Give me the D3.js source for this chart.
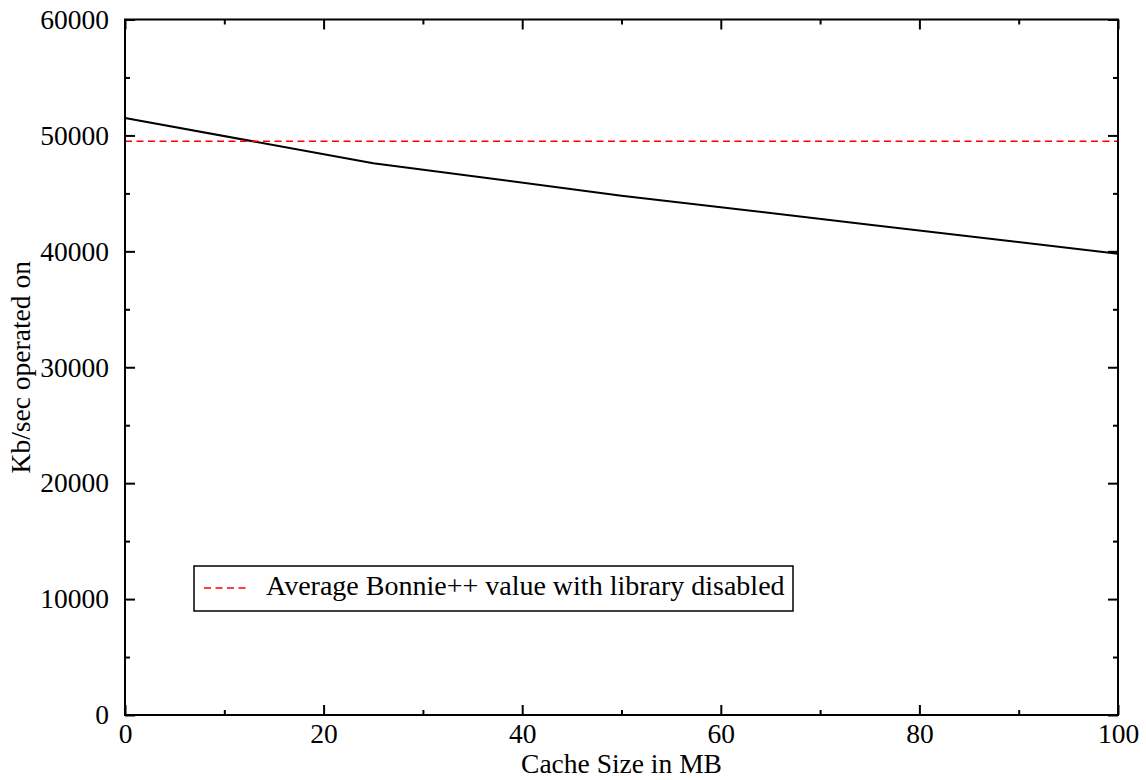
<!DOCTYPE html>
<html><head><meta charset="utf-8">
<script src="https://cdn.jsdelivr.net/npm/d3@7"></script>
<style>body{margin:0;background:#fff}</style>
</head><body>
<svg id="c" width="1146" height="780"></svg>
<script>
const cacheSizes = [0, 25, 50, 75, 100];
const throughput = [51500, 47600, 44800, 42300, 39800];
const baselineValue = 49500;
const xTicks = [0, 20, 40, 60, 80, 100];
const yTicks = [0, 10000, 20000, 30000, 40000, 50000, 60000];
const legendLabel = "Average Bonnie++ value with library disabled";
const xTitle = "Cache Size in MB";
const yTitle = "Kb/sec operated on";

const L = 125, R = 1118, T = 19.5, B = 715;
const svg = d3.select("#c");
const font = "'Liberation Serif', 'DejaVu Serif', serif";
const FS = 27.5;
const x = d3.scaleLinear().domain([0, 100]).range([L, R]);
const y = d3.scaleLinear().domain([0, 60000]).range([B, T]);

const g = svg.append("g");
// series
const line = d3.line().x((d, i) => x(cacheSizes[i])).y(d => y(d));
g.append("path").datum(throughput).attr("d", line)
  .attr("fill", "none").attr("stroke", "#000").attr("stroke-width", 2);
g.append("line").attr("x1", x(0)).attr("x2", x(100))
  .attr("y1", y(baselineValue)).attr("y2", y(baselineValue))
  .attr("stroke", "#ff0000").attr("stroke-width", 1.5).attr("stroke-dasharray", "7,4.5");

// axes with inward ticks
function tickAxis(axisFn, scale, major, minor, transform, labels) {
  const a = g.append("g").attr("transform", transform);
  a.call(axisFn(scale).tickValues(minor).tickSize(-5).tickFormat(""));
  a.select(".domain").remove();
  const b = g.append("g").attr("transform", transform);
  b.call(axisFn(scale).tickValues(major).tickSize(-10).tickFormat(labels ? d3.format("d") : ""));
  b.select(".domain").remove();
  b.selectAll("line").attr("stroke", "#000").attr("stroke-width", 2);
  a.selectAll("line").attr("stroke", "#000").attr("stroke-width", 2);
  b.selectAll("text").attr("font-family", font).attr("font-size", FS).attr("fill", "#000");
  return b;
}
const xMinor = d3.range(10, 100, 20);
const yMinor = d3.range(5000, 60000, 10000);
const bx = tickAxis(d3.axisBottom, x, xTicks, xMinor, `translate(0,${B})`, true);
bx.selectAll("text").attr("dy", 0).attr("y", 28);
tickAxis(d3.axisTop, x, xTicks, xMinor, `translate(0,${T})`, false);
const by = tickAxis(d3.axisLeft, y, yTicks, yMinor, `translate(${L},0)`, true);
by.selectAll("text").attr("x", -16).attr("dy", "0.32em");
tickAxis(d3.axisRight, y, yTicks, yMinor, `translate(${R},0)`, false);

// frame
g.append("rect").attr("x", L).attr("y", T).attr("width", R - L).attr("height", B - T)
  .attr("fill", "none").attr("stroke", "#000").attr("stroke-width", 2);

// titles
svg.append("text").attr("x", (L + R) / 2).attr("y", 773).attr("text-anchor", "middle")
  .attr("font-family", font).attr("font-size", FS).text(xTitle);
svg.append("text").attr("transform", `translate(30,${(T + B) / 2}) rotate(-90)`).attr("text-anchor", "middle")
  .attr("font-family", font).attr("font-size", FS).text(yTitle);

// legend
const lg = svg.append("g");
lg.append("rect").attr("x", 194).attr("y", 566).attr("width", 599).attr("height", 45)
  .attr("fill", "#fff").attr("stroke", "#000").attr("stroke-width", 1.5);
lg.append("line").attr("x1", 204).attr("x2", 247).attr("y1", 588).attr("y2", 588)
  .attr("stroke", "#ff0000").attr("stroke-width", 1.5).attr("stroke-dasharray", "7,4.5");
lg.append("text").attr("x", 266).attr("y", 595).attr("font-family", font).attr("font-size", 28).text(legendLabel);
</script>
</body></html>
